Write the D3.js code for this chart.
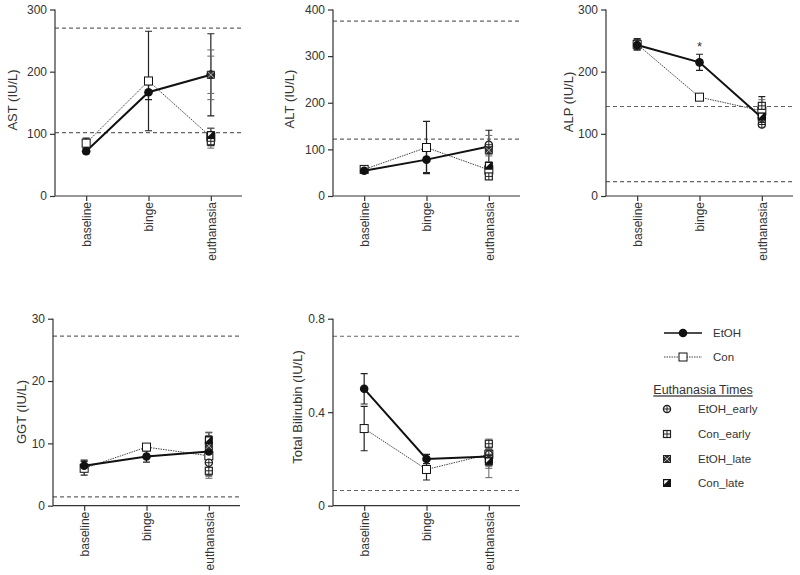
<!DOCTYPE html>
<html><head><meta charset="utf-8">
<script src="https://cdn.jsdelivr.net/npm/d3@7"></script>
<style>
body{margin:0;background:#fff;}
svg{display:block;font-family:Arial,"Liberation Sans",Helvetica,sans-serif;}
</style></head>
<body><svg id="c" width="800" height="575"></svg>
<script>
// ---------- data ----------
const categories = ["baseline", "binge", "euthanasia"];
const subgroups = ["EtOH_early", "Con_early", "EtOH_late", "Con_late"];

const astEtOH = [72, 167, 195],   astEtOHErr = [4, 12, 66];
const astCon  = [85, 185, 95],    astConErr  = [8, 80, 14];
const astSub  = [195, 88, 195, 98], astSubErr = [40, 11, 30, 11];
const astRef  = [102, 270];
const astTicks = [0, 100, 200, 300];

const altEtOH = [54, 78, 106],    altEtOHErr = [3, 28, 35];
const altCon  = [57, 104, 56],    altConErr  = [4, 56, 12];
const altSub  = [110, 42, 98, 65], altSubErr = [20, 5, 12, 8];
const altRef  = [122, 375];
const altTicks = [0, 100, 200, 300, 400];

const alpEtOH = [243, 215, 126],  alpEtOHErr = [8, 13, 8];
const alpCon  = [244, 159, 137],  alpConErr  = [9, 3, 23];
const alpSub  = [115, 145, 124, 128], alpSubErr = [4, 10, 5, 4];
const alpRef  = [23, 144];
const alpTicks = [0, 100, 200, 300];
const alpStar = [null, 246, null];

const ggtEtOH = [6.4, 7.9, 8.7],  ggtEtOHErr = [0.9, 0.9, 3.0];
const ggtCon  = [6.0, 9.4, 8.0],  ggtConErr  = [1.1, 0.4, 3.2];
const ggtSub  = [6.9, 5.6, 9.6, 10.5], ggtSubErr = [1.5, 1.2, 1.5, 1.3];
const ggtRef  = [1.4, 27.2];
const ggtTicks = [0, 10, 20, 30];

const bilEtOH = [0.50, 0.20, 0.21], bilEtOHErr = [0.065, 0.02, 0.02];
const bilCon  = [0.33, 0.155, 0.22], bilConErr = [0.095, 0.045, 0.05];
const bilSub  = [0.22, 0.265, 0.20, 0.19], bilSubErr = [0.02, 0.02, 0.04, 0.07];
const bilRef  = [0.065, 0.725];
const bilTicks = [0, 0.4, 0.8];

// ---------- layout ----------
const panels = [
  {label:"AST (IU/L)", etoh:astEtOH, etohErr:astEtOHErr, con:astCon, conErr:astConErr, sub:astSub, subErr:astSubErr, ref:astRef, ticks:astTicks, max:300, star:null,
   l:55, r:242, t:9.5, b:196, lx:12, ly:100},
  {label:"ALT (IU/L)", etoh:altEtOH, etohErr:altEtOHErr, con:altCon, conErr:altConErr, sub:altSub, subErr:altSubErr, ref:altRef, ticks:altTicks, max:400, star:null,
   l:333, r:520, t:9.5, b:196, lx:289, ly:99},
  {label:"ALP (IU/L)", etoh:alpEtOH, etohErr:alpEtOHErr, con:alpCon, conErr:alpConErr, sub:alpSub, subErr:alpSubErr, ref:alpRef, ticks:alpTicks, max:300, star:alpStar,
   l:606, r:793, t:9.5, b:196, lx:568, ly:102},
  {label:"GGT (IU/L)", etoh:ggtEtOH, etohErr:ggtEtOHErr, con:ggtCon, conErr:ggtConErr, sub:ggtSub, subErr:ggtSubErr, ref:ggtRef, ticks:ggtTicks, max:30, star:null,
   l:53, r:240, t:318.7, b:505.7, lx:21, ly:412},
  {label:"Total Bilirubin (IU/L)", etoh:bilEtOH, etohErr:bilEtOHErr, con:bilCon, conErr:bilConErr, sub:bilSub, subErr:bilSubErr, ref:bilRef, ticks:bilTicks, max:0.8, star:null,
   l:333, r:520, t:318.7, b:505.7, lx:297, ly:407}
];

const svg = d3.select("#c");
const TXT = "#333", AX = "#333";

function symbol(g, type, x, y) {
  const s = g.append("g").attr("transform", `translate(${x},${y})`);
  if (type === "etoh") {
    s.append("circle").attr("r", 4.3).attr("fill", "#111");
  } else if (type === "con") {
    s.append("rect").attr("x", -4).attr("y", -4).attr("width", 8).attr("height", 8)
      .attr("fill", "#fff").attr("stroke", "#111").attr("stroke-width", 1);
  } else if (type === "EtOH_early") {
    s.append("circle").attr("r", 3.6).attr("fill", "#fff").attr("stroke", "#222").attr("stroke-width", 1.3);
    s.append("path").attr("d", "M-3.6,0H3.6M0,-3.6V3.6").attr("stroke", "#222").attr("stroke-width", 1);
  } else if (type === "Con_early") {
    s.append("rect").attr("x", -3.5).attr("y", -3.5).attr("width", 7).attr("height", 7)
      .attr("fill", "#fff").attr("stroke", "#222").attr("stroke-width", 1.2);
    s.append("path").attr("d", "M-3.5,0H3.5M0,-3.5V3.5").attr("stroke", "#222").attr("stroke-width", 1);
  } else if (type === "EtOH_late") {
    s.append("rect").attr("x", -3.5).attr("y", -3.5).attr("width", 7).attr("height", 7)
      .attr("fill", "#333").attr("stroke", "#222").attr("stroke-width", 1);
    s.append("path").attr("d", "M-3,-3L3,3M3,-3L-3,3").attr("stroke", "#ccc").attr("stroke-width", 0.8);
  } else if (type === "Con_late") {
    s.append("rect").attr("x", -3.5).attr("y", -3.5).attr("width", 7).attr("height", 7)
      .attr("fill", "#111").attr("stroke", "#111").attr("stroke-width", 1);
    s.append("path").attr("d", "M-2.8,-2.8H1.5L-2.8,1.5Z").attr("fill", "#fff");
  }
}

function errbar(g, x, y1, y2, color, w) {
  g.append("path").attr("d", `M${x},${y1}V${y2}M${x-3.5},${y1}H${x+3.5}M${x-3.5},${y2}H${x+3.5}`)
    .attr("stroke", color).attr("stroke-width", w).attr("fill", "none");
}

panels.forEach(p => {
  const g = svg.append("g");
  const x = d3.scalePoint().domain(categories).range([p.l, p.r]).padding(0.5);
  const y = d3.scaleLinear().domain([0, p.max]).range([p.b, p.t]);

  // reference lines
  p.ref.forEach(v => {
    g.append("line").attr("x1", p.l).attr("x2", p.r).attr("y1", y(v)).attr("y2", y(v))
      .attr("stroke", "#666").attr("stroke-width", 1.2).attr("stroke-dasharray", "4,3");
  });

  // y axis
  const ya = g.append("g").attr("transform", `translate(${p.l},0)`)
    .call(d3.axisLeft(y).tickValues(p.ticks).tickSize(5).tickPadding(3).tickFormat(d3.format("~g")));
  ya.select(".domain").attr("stroke", AX).attr("stroke-width", 1.2).attr("d", `M0,${p.t}V${p.b}`);
  ya.selectAll(".tick line").attr("stroke", AX).attr("stroke-width", 1.2);
  ya.selectAll(".tick text").attr("fill", TXT).attr("font-size", 12).attr("font-family", "Arial, 'Liberation Sans', sans-serif");

  // x axis
  const xa = g.append("g").attr("transform", `translate(0,${p.b})`)
    .call(d3.axisBottom(x).tickSize(5).tickSizeOuter(0));
  xa.select(".domain").attr("stroke", AX).attr("stroke-width", 1.2).attr("d", `M${p.l},0H${p.r}`);
  xa.selectAll(".tick line").attr("stroke", AX).attr("stroke-width", 1.2);
  xa.selectAll(".tick text").attr("fill", TXT).attr("font-size", 12)
    .attr("font-family", "Arial, 'Liberation Sans', sans-serif")
    .attr("text-anchor", "end").attr("transform", "rotate(-90)")
    .attr("x", -6).attr("y", 0).attr("dy", "0.35em");

  // y label
  g.append("text").attr("transform", `translate(${p.lx},${p.ly}) rotate(-90)`)
    .attr("text-anchor", "middle").attr("dy", "0.35em").attr("font-size", 13).attr("fill", TXT)
    .text(p.label);

  // lines
  const line = d3.line().x((d, i) => x(categories[i])).y(d => y(d));
  g.append("path").datum(p.con).attr("d", line).attr("fill", "none")
    .attr("stroke", "#444").attr("stroke-width", 1).attr("stroke-dasharray", "1.5,1");
  g.append("path").datum(p.etoh).attr("d", line).attr("fill", "none")
    .attr("stroke", "#111").attr("stroke-width", 2);

  // error bars
  p.con.forEach((v, i) => errbar(g, x(categories[i]), y(v - p.conErr[i]), y(v + p.conErr[i]), "#222", 1.2));
  p.etoh.forEach((v, i) => errbar(g, x(categories[i]), y(v - p.etohErr[i]), y(v + p.etohErr[i]), "#222", 1.2));
  const xe = x(categories[2]);
  p.sub.forEach((v, i) => errbar(g, xe, y(v - p.subErr[i]), y(v + p.subErr[i]), "#666", 1));

  // markers
  p.con.forEach((v, i) => symbol(g, "con", x(categories[i]), y(v)));
  p.etoh.forEach((v, i) => symbol(g, "etoh", x(categories[i]), y(v)));
  p.sub.forEach((v, i) => symbol(g, subgroups[i], xe, y(v)));

  if (p.star) p.star.forEach((v, i) => {
    if (v != null) g.append("text").attr("x", x(categories[i])).attr("y", y(v) + 8)
      .attr("text-anchor", "middle").attr("font-size", 13).attr("fill", TXT).text("*");
  });
});

// ---------- legend ----------
const lg = svg.append("g");
lg.append("line").attr("x1", 664).attr("x2", 702).attr("y1", 333).attr("y2", 333)
  .attr("stroke", "#111").attr("stroke-width", 1.5);
symbol(lg, "etoh", 683, 333);
lg.append("text").attr("x", 713).attr("y", 333).attr("dy", "0.35em").attr("font-size", 11.5).attr("fill", TXT).text("EtOH");
lg.append("line").attr("x1", 664).attr("x2", 702).attr("y1", 357).attr("y2", 357)
  .attr("stroke", "#444").attr("stroke-width", 1).attr("stroke-dasharray", "1.5,1");
symbol(lg, "con", 683, 357);
lg.append("text").attr("x", 713).attr("y", 357).attr("dy", "0.35em").attr("font-size", 11.5).attr("fill", TXT).text("Con");
lg.append("text").attr("x", 703).attr("y", 390).attr("dy", "0.35em").attr("text-anchor", "middle")
  .attr("font-size", 12.5).attr("fill", TXT).attr("text-decoration", "underline").text("Euthanasia Times");
const rowY = [409, 434, 459, 483];
subgroups.forEach((s, i) => {
  symbol(lg, s, 667, rowY[i]);
  lg.append("text").attr("x", 698).attr("y", rowY[i]).attr("dy", "0.35em").attr("font-size", 11.5).attr("fill", TXT).text(s);
});
</script></body></html>
